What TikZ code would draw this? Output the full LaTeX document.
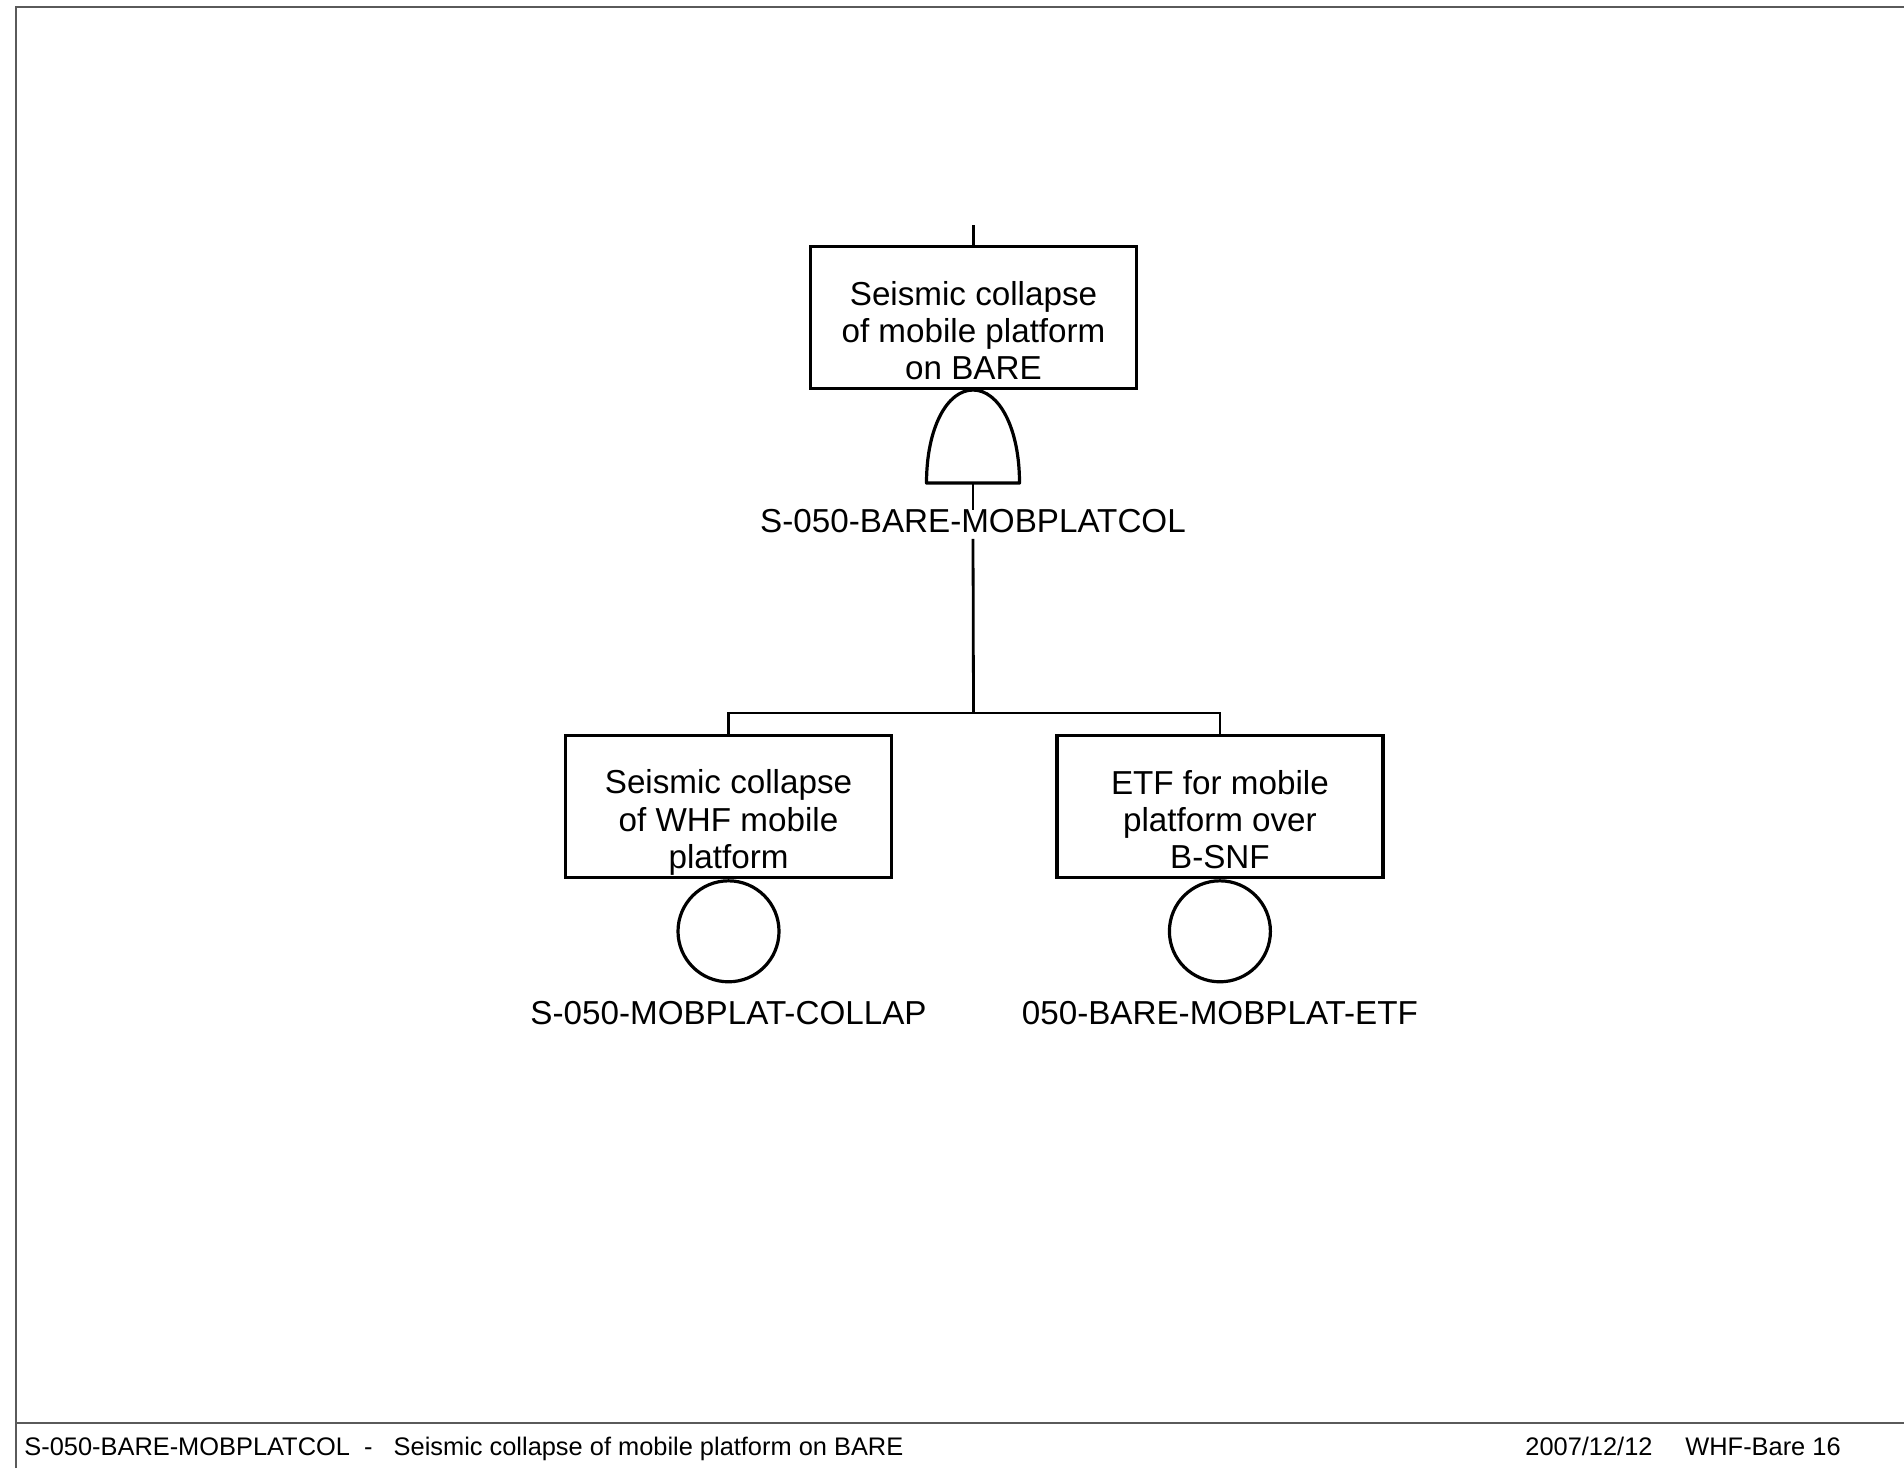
\documentclass[tikz,border=0pt]{standalone}
\usepackage{fontspec}
\setmainfont{Liberation Sans}
\usepackage{xcolor}
\usepackage{tikz}
\usetikzlibrary{positioning,calc}
\definecolor{ink}{HTML}{000000}
\definecolor{sheet}{HTML}{5A5A5A}
\tikzset{
  evbox/.style  ={draw=ink,line width=1.7pt,minimum width=163pt,minimum height=71pt,
                  inner sep=0pt},
  evtext/.style ={align=center,inner sep=0pt,font=\fontsize{16.6}{18.6}\selectfont},
  basic/.style  ={circle,draw=ink,line width=1.6pt,minimum size=50.5pt,inner sep=0pt},
  idlbl/.style  ={inner sep=0pt,text height=12pt,text depth=3pt,
                  font=\fontsize{16.6}{18.6}\selectfont},
  gate/.style   ={draw=ink,line width=1.6pt,line join=round},
  wire/.style   ={draw=ink,line width=1.4pt},
  frameln/.style={draw=sheet,line width=1pt},
  foot/.style   ={inner sep=0pt,anchor=base west,font=\fontsize{12.7}{14}\selectfont}
}

\begin{document}
\begin{tikzpicture}[x=0.5pt,y=-0.5pt]
    \useasboundingbox (0,0) rectangle (1904,1468);
    % sheet frame and title strip
    \draw[frameln] (16,1468) -- (16,7) -- (1904,7);
    \draw[frameln,line width=0.75pt] (16,1423) -- (1904,1423);
    \node[foot] (ftitle) at (24,1455) {S-050-BARE-MOBPLATCOL\ \ -\ \ \ Seismic collapse of mobile platform on BARE};
    \node[foot] (fdate) at (1525,1455) {2007/12/12};
    \node[foot] (fsheet) at (1685,1455) {WHF-Bare 16};

    % top event
    \coordinate (stub) at (973.5,225);
    \node[evbox] (top) at (973.5,317.5) {};
    \node[evtext] (toptxt) at ([yshift=-6.5pt]top.center) {Seismic collapse\\of mobile platform\\on BARE};
    \draw[wire] (stub) -- (top.north);

    % and gate
    \coordinate (gtop) at (973,390);
    \coordinate (gbot) at (973,483);
    \draw[gate] (926.5,483) .. controls (926.5,428) and (947,390) .. (gtop)
                .. controls (999,390) and (1019.5,428) .. (1019.5,483) -- cycle;
    \node[idlbl,below=12.5pt of gbot] (glbl) {S-050-BARE-MOBPLATCOL};
    \draw[wire] (gbot) -- ([yshift=-1pt]glbl.north);

    % inputs
    \coordinate (bar) at (973.5,713);
    \node[evbox] (left) at (728.5,806.5) {};
    \node[evbox,right=81pt of left] (right) {};
    \node[evtext] (lefttxt) at ([yshift=-8pt]left.center) {Seismic collapse\\of WHF mobile\\platform};
    \node[evtext] (righttxt) at ([yshift=-6.5pt]right.center) {ETF for mobile\\platform over\\B-SNF};
    \draw[wire] (glbl.south) -- (bar);
    \draw[wire] (left.north) |- (bar) -| (right.north);

    \node[basic,below=0pt of left] (e1) {};
    \node[basic,below=0pt of right] (e2) {};
    \node[idlbl,below=8.5pt of e1] (e1lbl) {S-050-MOBPLAT-COLLAP};
    \node[idlbl,below=8.5pt of e2] (e2lbl) {050-BARE-MOBPLAT-ETF};
\end{tikzpicture}
\end{document}
